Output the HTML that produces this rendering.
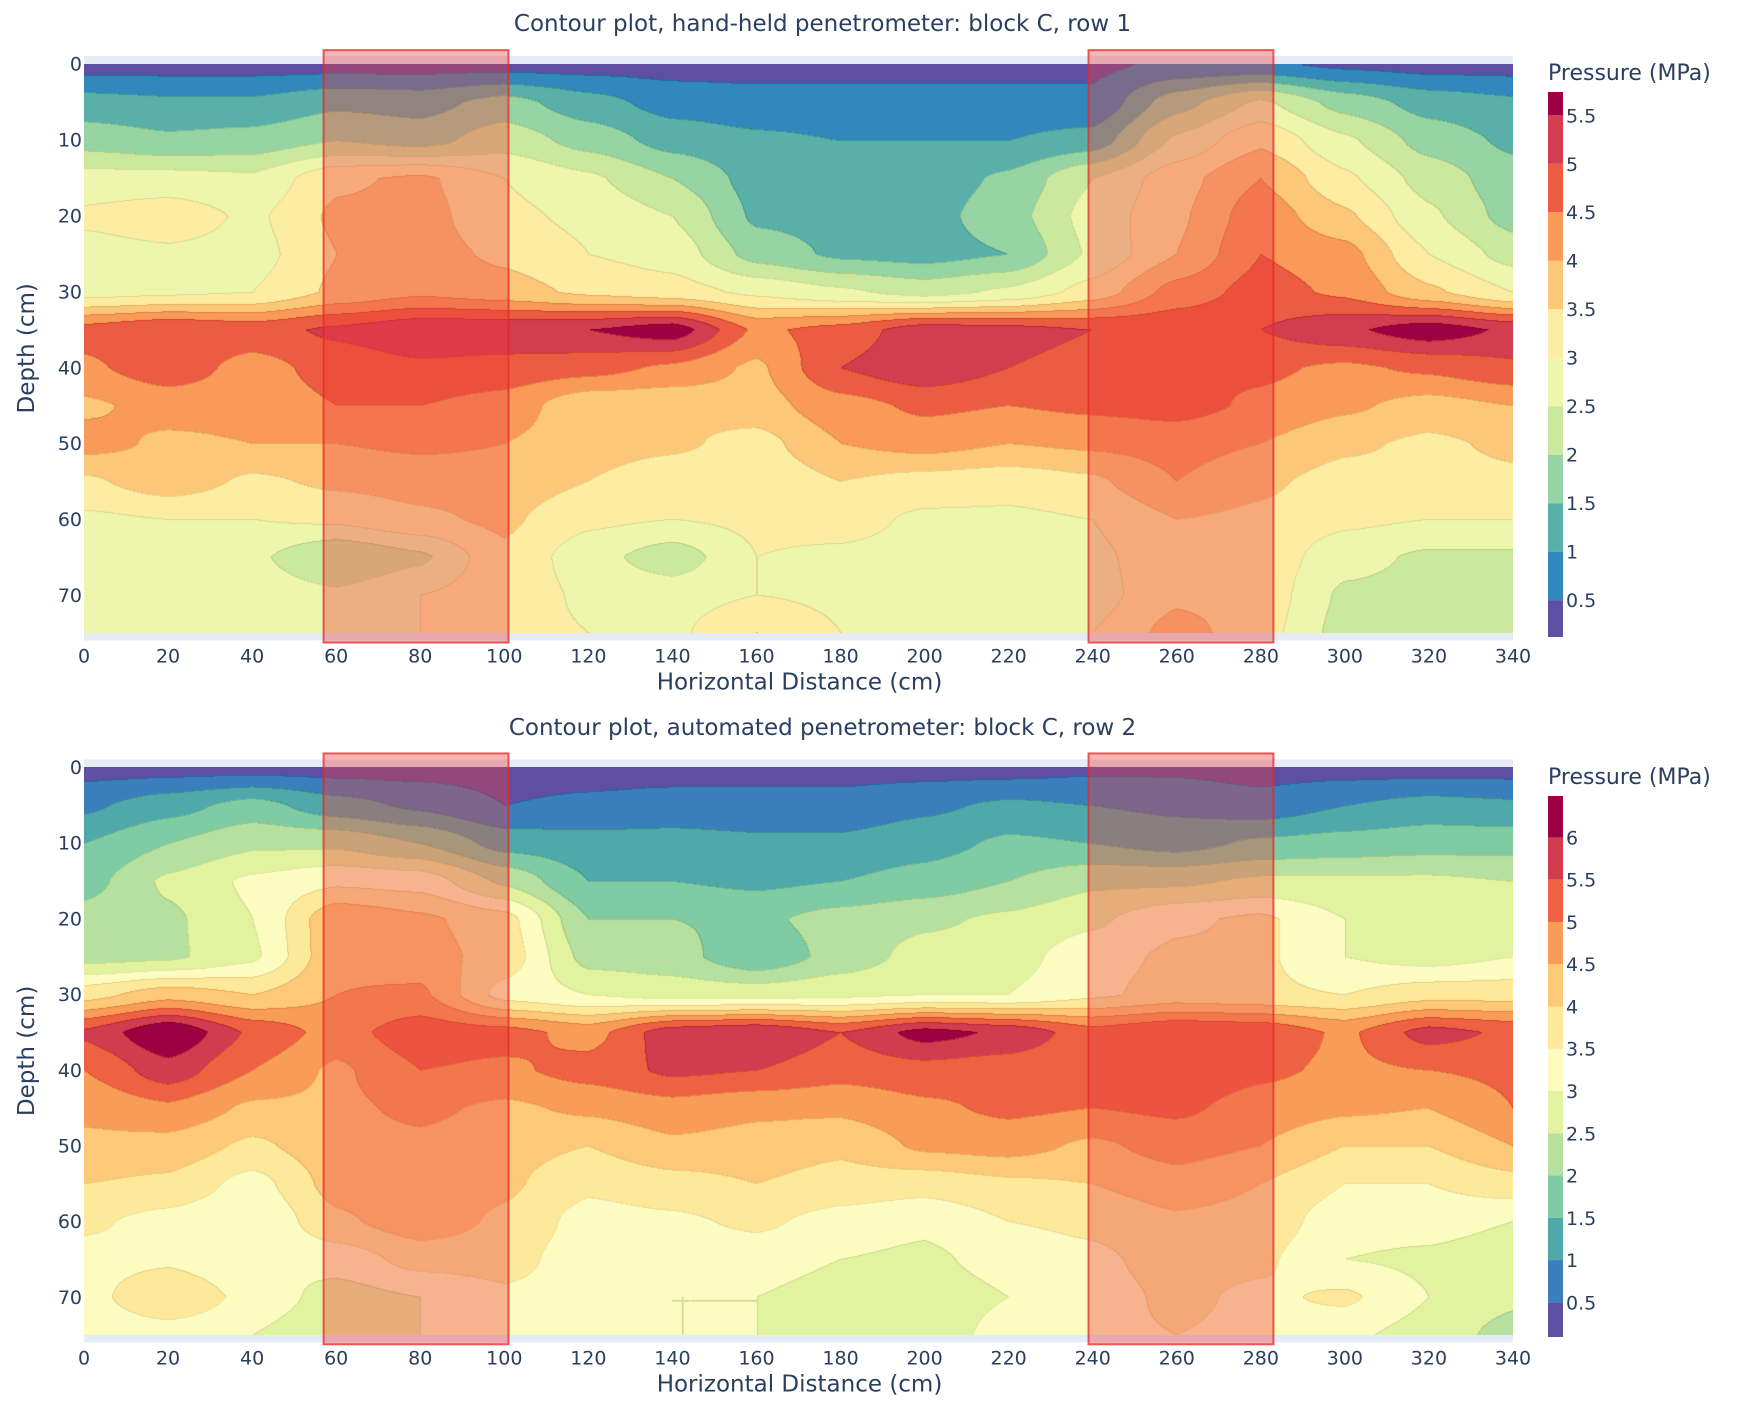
<!DOCTYPE html>
<html><head><meta charset="utf-8">
<style>
body{margin:0;background:#fff;width:1737px;height:1408px;overflow:hidden;font-family:"DejaVu Sans","Liberation Sans",sans-serif;}
#wrap{position:relative;width:1737px;height:1408px;}
canvas{position:absolute;z-index:1;}
svg{position:absolute;left:0;top:0;}
#bgs{z-index:0;}
#ov{z-index:2;}
text{fill:#2a3f5f;font-family:"DejaVu Sans","Liberation Sans",sans-serif;}
</style></head>
<body>
<div id="wrap">
<svg id="bgs" width="1737" height="1408"></svg>
<canvas id="c1"></canvas>
<canvas id="c2"></canvas>
<svg id="ov" width="1737" height="1408"></svg>
</div>
<script>
// ---- data ----
const xCats = [0,20,40,60,80,100,120,140,160,180,200,220,240,260,280,300,320,340];
const depthCats = [0,5,10,15,20,25,30,35,40,45,50,55,60,65,70,75];
const xTicks = [0,20,40,60,80,100,120,140,160,180,200,220,240,260,280,300,320,340];
const yTicks = [0,10,20,30,40,50,60,70];
const zones = [[57,101],[239,283]];
const cbTicks1 = [0.5,1,1.5,2,2.5,3,3.5,4,4.5,5,5.5];
const cbTicks2 = [0.5,1,1.5,2,2.5,3,3.5,4,4.5,5,5.5,6];
const grid1 = [
[0.3,0.3,0.3,0.3,0.3,0.3,0.3,0.3,0.3,0.3,0.3,0.3,0.4,0.6,0.6,0.4,0.3,0.3],
[1.2,1.1,1.1,1.4,1.3,1.7,1.2,0.8,0.7,0.7,0.7,0.7,0.6,1.8,2.6,1.8,1.3,1.1],
[1.8,1.6,1.7,2.0,1.8,2.3,1.8,1.3,1.1,1.0,1.0,1.0,1.2,2.6,3.4,2.6,1.8,1.4],
[2.7,2.7,2.6,3.4,3.6,3.0,2.6,2.0,1.3,1.2,1.2,1.6,2.5,3.3,4.0,3.1,2.3,1.7],
[3.1,3.3,2.9,3.6,3.7,3.1,2.9,2.5,1.4,1.3,1.3,1.8,2.7,3.4,4.3,3.6,2.6,1.8],
[2.8,2.9,2.8,3.5,3.7,3.4,3.0,2.8,1.8,1.4,1.3,1.5,2.6,3.5,4.5,4.2,3.0,2.3],
[2.8,2.9,3.0,3.6,3.9,3.7,3.4,3.2,2.9,2.6,2.3,2.6,3.2,4.2,4.7,4.4,3.6,3.0],
[4.7,5.0,4.8,5.1,5.4,5.4,5.5,5.8,4.4,4.7,5.3,5.2,5.0,4.9,5.0,5.4,5.8,5.4],
[4.4,4.8,4.3,4.7,4.9,4.8,4.7,4.4,3.9,5.0,5.4,5.0,4.8,4.6,4.6,4.4,4.6,4.9],
[3.9,4.2,4.2,4.5,4.5,4.3,3.6,3.6,3.8,4.3,4.6,4.5,4.6,4.7,4.4,4.1,3.8,4.0],
[4.2,3.9,4.0,4.0,4.1,4.0,3.7,3.6,3.3,4.0,4.2,4.0,4.1,4.2,4.0,3.6,3.4,3.6],
[3.4,3.8,3.4,3.6,3.7,3.8,3.5,3.2,3.1,3.5,3.3,3.2,3.4,4.0,3.6,3.3,3.3,3.4],
[2.9,3.0,3.0,3.1,3.4,3.6,3.1,3.0,3.1,3.2,2.9,2.9,3.0,3.5,3.4,3.1,3.0,3.0],
[2.8,2.7,2.6,2.0,2.4,3.4,2.7,2.2,3.0,2.9,2.8,2.7,2.9,3.3,3.3,2.7,2.4,2.4],
[2.7,2.9,2.8,2.6,3.0,3.3,2.9,2.8,3.0,2.9,2.7,2.6,2.8,3.4,3.3,2.4,2.3,2.3],
[2.8,2.7,2.7,2.8,3.0,3.2,3.0,2.9,3.5,3.0,2.8,2.7,3.0,3.7,3.2,2.3,2.2,2.2]];
const grid2 = [
[0.3,0.3,0.3,0.3,0.3,0.3,0.3,0.3,0.3,0.3,0.3,0.3,0.4,0.4,0.3,0.3,0.3,0.3],
[0.9,1.3,1.7,1.2,0.9,0.5,0.6,0.7,0.7,0.7,0.9,1.1,1.0,0.9,0.7,1.0,1.2,1.1],
[1.5,2.0,2.4,2.4,2.0,1.3,1.2,1.2,1.1,1.1,1.3,1.6,1.5,1.3,1.6,1.7,1.8,1.8],
[1.8,2.6,3.1,3.4,3.3,2.4,1.5,1.5,1.4,1.5,1.7,2.0,2.4,2.4,2.6,2.6,2.6,2.5],
[2.2,2.4,3.0,4.4,4.1,3.7,2.0,2.0,1.9,2.2,2.4,2.6,2.9,3.4,3.6,3.0,3.0,2.9],
[2.3,2.4,2.9,4.4,4.2,3.8,2.3,2.2,1.6,2.2,2.7,2.8,3.3,3.6,3.6,3.0,2.8,3.0],
[3.8,4.3,4.0,4.5,4.6,3.3,3.0,2.8,2.8,2.9,3.0,3.0,3.4,3.7,3.6,3.5,3.8,3.8],
[5.6,6.5,5.4,4.8,5.3,5.2,4.8,5.8,6.0,5.5,6.2,5.9,5.2,5.5,5.4,4.9,5.7,5.4],
[5.0,5.8,5.0,4.4,5.0,4.9,5.2,5.6,5.5,5.2,5.3,5.2,5.0,5.4,5.1,4.9,5.0,5.1],
[4.6,4.9,4.4,4.4,4.6,4.4,4.6,4.8,4.6,4.6,4.9,5.1,5.0,5.1,4.8,4.6,4.5,5.0],
[4.4,4.3,3.9,4.3,4.4,4.2,4.0,4.4,4.3,4.1,4.6,4.7,4.4,4.7,4.5,4.0,4.0,4.5],
[4.0,3.9,3.3,4.2,4.5,4.1,3.6,3.8,4.0,3.8,3.7,3.9,4.0,4.3,4.0,3.5,3.5,3.8],
[3.6,3.3,3.0,3.9,4.3,3.9,3.3,3.4,3.6,3.3,3.1,3.5,3.6,3.9,3.8,3.2,3.2,3.0],
[3.3,3.4,3.0,3.2,3.7,3.7,3.2,3.1,3.2,3.0,2.9,3.2,3.4,3.7,3.6,3.0,2.9,2.7],
[3.3,4.0,3.3,2.8,3.0,3.4,3.3,3.0,3.0,2.8,2.7,3.0,3.3,3.6,3.4,3.6,3.0,2.6],
[3.1,3.2,3.0,2.6,3.0,3.2,3.2,3.0,3.0,2.8,2.7,3.2,3.4,3.5,3.4,3.1,2.8,2.3]];
const colors1 = ['#5e4fa2','#3288bd','#58b0a8','#96d4a4','#cbe89f','#eef6ae','#fdeda3','#fdc77a','#f99a59','#ec5c42','#d23d50','#9e0142'];
const colors2 = ['#5e4fa2','#3a7fbc','#4fa8aa','#7fcba4','#b5e09f','#e2f3a0','#fdfcc0','#fee99a','#fdc877','#f99c58','#ee6243','#d23c4f','#9e0142'];

// ---- layout ----
const X0=84, X1=1513;
const P = [
 {canvas:'c1',grid:grid1,colors:colors1,y0:63.7,py:7.59,title:'Contour plot, hand-held penetrometer: block C, row 1',titleY:31,
  cb:{top:92,bot:637,vTop:5.74,vBot:0.12,ticks:cbTicks1,titleY:80}},
 {canvas:'c2',grid:grid2,colors:colors2,y0:767,py:7.57,title:'Contour plot, automated penetrometer: block C, row 2',titleY:735,
  cb:{top:796,bot:1337,vTop:6.49,vBot:0.09,ticks:cbTicks2,titleY:784}}
];
const NS='http://www.w3.org/2000/svg';
const svg=document.getElementById('ov');
const bgs=document.getElementById('bgs');
function mk(tag,attrs,txt,parent){const e=document.createElementNS(NS,tag);for(const k in attrs)e.setAttribute(k,attrs[k]);if(txt!==undefined&&txt!==null)e.textContent=txt;(parent||svg).appendChild(e);return e;}
const xScale=v=>X0+(v-xCats[0])/(xCats[xCats.length-1]-xCats[0])*(X1-X0);
function hex(h){return [parseInt(h.substr(1,2),16),parseInt(h.substr(3,2),16),parseInt(h.substr(5,2),16)];}

P.forEach((p,pi)=>{
  const yScale=d=>p.y0+d*p.py;
  const top=yScale(-1), bot=yScale(76);
  const bg=mk('rect',{x:X0,y:top,width:X1-X0,height:bot-top,fill:'#e5ecf6'},null,bgs);
  
  
  const cv=document.getElementById(p.canvas);
  const cy0=Math.round(yScale(depthCats[0])), cy1=Math.round(yScale(depthCats[depthCats.length-1]));
  const W=Math.round(X1-X0), H=cy1-cy0;
  cv.width=W; cv.height=H; cv.style.left=X0+'px'; cv.style.top=cy0+'px';
  const ctx=cv.getContext('2d'); const img=ctx.createImageData(W,H);
  const cols=p.colors.map(hex); const g=p.grid;
  const nx=xCats.length-1, ny=depthCats.length-1;
  const prev=new Int8Array(W);
  for(let j=0;j<H;j++){
    const fy=j/(H-1)*ny; let r=Math.min(Math.floor(fy),ny-1); const ty=fy-r;
    let lastK=-1;
    for(let i=0;i<W;i++){
      const fx=i/(W-1)*nx; let c=Math.min(Math.floor(fx),nx-1); const tx=fx-c;
      const sx=tx*tx*(3-2*tx)*0.5+tx*0.5, sy=ty*ty*(3-2*ty)*0.5+ty*0.5;
      const v=(g[r][c]*(1-sx)+g[r][c+1]*sx)*(1-sy)+(g[r+1][c]*(1-sx)+g[r+1][c+1]*sx)*sy;
      let k=Math.floor(v/0.5); if(k<0)k=0; if(k>cols.length-1)k=cols.length-1;
      const col=cols[k];
      const idx=(j*W+i)*4;
      const edge=(lastK>=0&&lastK!==k)||(j>0&&prev[i]!==k);
      const d=edge?25:0;
      img.data[idx]=col[0]-d;img.data[idx+1]=col[1]-d;img.data[idx+2]=col[2]-d;img.data[idx+3]=255;
      lastK=k; prev[i]=k;
    }
  }
  ctx.putImageData(img,0,0);
  zones.forEach(z=>{
    const r=mk('rect',{x:xScale(z[0]),y:top-6,width:xScale(z[1])-xScale(z[0]),height:bot-top+8,fill:'rgba(235,60,60,0.38)',stroke:'rgba(230,40,40,0.75)','stroke-width':2});
    
    
  });
  const t=mk('text',{x:(X0+X1)/2+24,y:p.titleY,'text-anchor':'middle','font-size':23},p.title);
  
  
  xTicks.forEach(v=>{
    const e=mk('text',{x:xScale(v),y:bot+22,'text-anchor':'middle','font-size':19},String(v));
    
    
  });
  const xt=mk('text',{x:(X0+X1)/2+1,y:bot+49,'text-anchor':'middle','font-size':23},'Horizontal Distance (cm)');
  
  
  yTicks.forEach(v=>{
    const e=mk('text',{x:X0-2,y:yScale(v)+7,'text-anchor':'end','font-size':19},String(v));
    
    
  });
  const yc=(top+bot)/2;
  const yt=mk('text',{x:34,y:yc,'text-anchor':'middle','font-size':23,transform:`rotate(-90 34 ${yc})`},'Depth (cm)');
  
  
  const cb=p.cb; const cbY=v=>cb.bot-(v-cb.vBot)/(cb.vTop-cb.vBot)*(cb.bot-cb.top);
  p.colors.forEach((c,k)=>{
    const lo=Math.max(k*0.5,cb.vBot), hi=(k===p.colors.length-1)?cb.vTop:Math.min((k+1)*0.5,cb.vTop);
    const r=mk('rect',{x:1548,y:cbY(hi),width:15,height:cbY(lo)-cbY(hi),fill:c});
    
    
  });
  cb.ticks.forEach(v=>{
    const e=mk('text',{x:1566,y:cbY(v)+7,'font-size':19},String(v));
    
    
  });
  const ct=mk('text',{x:1548,y:cb.titleY,'font-size':22},'Pressure (MPa)');
  
  
});
</script>
</body></html>
